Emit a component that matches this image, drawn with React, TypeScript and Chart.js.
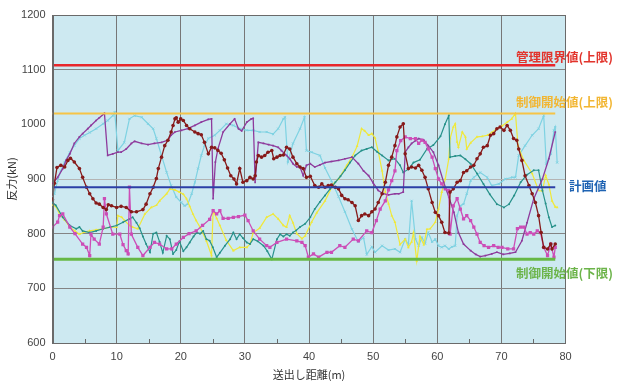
import React, { useEffect, useRef } from "react";
import { Chart, registerables } from "chart.js";

Chart.register(...registerables);

// ---------------- data ----------------
const xTickValues = [0, 10, 20, 30, 40, 50, 60, 70, 80];
const yTickValues = [600, 700, 800, 900, 1000, 1100, 1200];

const refValues = [1108, 1020, 885, 753];
const refLabels = ["管理限界値(上限)", "制御開始値(上限)", "計画値", "制御開始値(下限)"];
const refEndX = 78.4;

const maroonX = [0,0.3,0.7,1.3,1.9,2.4,2.8,3.4,4.2,4.7,5.3,5.8,6.3,6.8,7.3,7.9,8.4,8.7,9.2,10,10.7,11.5,12.3,13.1,14.1,14.6,15.2,15.7,16.2,16.5,17,17.5,18,18.5,18.8,19.1,19.3,19.6,20,20.4,20.9,21.4,22.2,22.7,23.2,23.7,24.3,24.8,25.3,25.8,26.3,26.8,27.3,27.8,28.3,28.7,29.2,29.7,30.3,30.8,31.3,31.6,31.8,32.1,32.6,33.1,33.6,34.2,34.5,35,35.5,36,36.5,37,37.5,38.1,38.6,39.1,39.6,40.2,40.9,41.5,42,42.5,43,43.5,44.1,44.6,45.1,45.6,46.1,46.7,47.2,47.7,48.2,48.7,49.3,49.8,50.3,50.8,51.4,51.9,52.4,52.9,53.4,53.7,54.2,54.7,55,55.5,56,56.6,57.1,57.6,58.1,58.6,59.2,59.7,60.2,60.7,61.2,61.8,62,62.5,63.1,63.6,64.1,64.6,65.2,65.7,66.2,66.7,67.2,67.8,68.3,68.8,69.3,69.8,70.4,70.9,71.4,71.9,72.4,72.7,73.2,73.7,74.3,74.8,75.3,75.8,76.2,76.6,77.2,77.7,77.9,78.4];
const maroonY = [862,892,921,925,922,934,938,931,919,903,885,873,864,856,854,848,844,853,851,848,850,848,840,840,844,854,873,885,901,919,940,961,971,986,998,1010,1012,1004,1010,1007,998,992,986,983,981,967,946,958,957,952,947,935,920,906,900,891,919,894,897,903,900,906,931,943,940,943,949,952,937,940,943,944,958,955,940,928,922,919,903,905,888,885,891,885,888,889,885,882,870,864,862,857,851,824,833,836,833,840,845,857,873,894,925,940,961,977,995,1001,946,919,922,920,925,916,903,882,857,839,833,821,802,801,876,882,894,897,912,915,922,925,937,946,958,961,980,983,992,995,989,998,989,974,971,955,934,906,888,873,857,833,802,775,772,781,772,781];

const purpleX = [0,0.8,1.6,2.1,2.7,3.4,4.2,4.7,5.5,6,6.8,7.3,8.1,8.6,9.4,10.2,10.7,11.5,12.3,12.8,13.9,14.9,15.9,17,18,18.5,19.1,20.1,21.1,22.2,23.2,24.3,24.8,25.05,25.4,25.8,26.6,27.7,28.4,29,29.5,30.3,31,31.3,31.6,32.1,32.9,33.7,34.4,35.2,35.7,36.5,37,37.5,38.1,38.6,39.1,39.6,40.2,40.9,41.7,42.5,43.5,44.6,45.6,46.7,47.7,48.5,49.3,50,50.8,51.6,52.4,53.4,54,54.7,55,55.5,56,56.6,57.1,57.9,58.6,59.4,60.2,61,61.8,62.6,63.3,64.1,65.2,66,66.7,67.5,68.5,69.3,70.3,71.3,72.2,73.2,74,75.05,76.4,77.4,78.4];
const purpleY = [892,903,919,934,946,965,977,983,992,998,1007,1012,1020,943,946,949,949,955,965,969,965,963,965,967,971,980,986,989,992,998,1004,1009,1010,864,931,955,986,1001,1010,992,988,1004,1010,1011,894,967,965,963,961,958,952,943,937,928,922,922,906,925,928,922,926,930,932,934,937,940,928,915,906,893,879,873,871,873,873,876,949,958,965,970,974,971,961,949,925,894,867,839,802,781,769,762,758,760,763,766,762,764,766,787,820,864,900,937,986];

const cyanX = [0,0.3,0.8,1.3,1.9,2.7,3.4,4.2,5,5.8,6.8,7.9,8.6,9.4,9.7,10.2,11.2,12,12.8,13.9,14.9,15.7,16.2,17,17.8,18.5,19.3,20.1,20.6,21.1,21.7,22.2,22.7,23.2,23.7,24.3,25.3,26.1,27.1,28.2,29.2,30.3,31.3,32.3,33.4,34.4,35.2,36,36.25,36.7,37.5,38.6,39.3,39.6,40.4,41.7,42.5,43.5,44.6,45.6,46.7,47.7,48.5,49,49.8,50.3,51.4,52.4,53.4,54.2,55,55.5,56,56.6,57.1,57.6,58.1,58.6,59.2,59.7,60.2,60.7,61.2,61.8,62.3,62.8,63.1,63.6,64.1,64.6,65.2,65.7,66.7,67.8,68.5,69.6,70.6,71.7,72.2,72.7,73.7,74.8,75.8,76.6,77,77.7,78.2,78.4,78.7];
const cyanY = [868,873,897,915,931,949,961,974,980,985,992,1001,1007,1016,1022,952,967,1010,1016,1013,1001,992,974,943,912,888,867,857,851,854,873,894,919,943,961,974,980,989,1001,998,992,989,989,986,986,982,992,1010,1013,931,965,992,1013,952,949,943,920,897,868,840,808,785,793,762,776,766,778,770,772,766,790,780,860,790,778,793,782,802,785,790,778,775,778,772,776,778,833,851,854,873,897,903,912,903,888,891,900,903,903,943,961,980,992,1016,928,946,989,995,930];

const magentaX = [0,0.8,1.1,1.6,2.7,3.5,4.7,5.3,5.8,6,6.5,7.3,7.9,8.1,8.4,9.4,10.5,11,11.5,11.8,12,12.3,13.3,14.1,15.2,15.9,16.7,17.8,18.6,19.3,20.4,21.3,22.4,23.4,24.5,25.05,25.6,26.1,26.6,27.4,28.2,29,30,30.5,31.3,32.3,33.4,33.9,35,36.5,38.1,38.9,39.4,39.9,40.7,41.5,42.8,43.5,44.8,45.6,46.9,47.7,49,49.8,50.5,51.1,51.9,52.4,52.9,53.4,53.7,54.3,55,55.8,56.6,57.1,57.6,58.1,58.6,59.2,59.7,60.2,60.7,61.25,61.8,62,62.5,63.1,63.6,64.1,64.6,65.2,65.7,66.2,66.7,67.3,68,68.8,69.5,70.1,71,71.9,72.5,73,73.5,74,74.5,75.05,75.6,76.1,76.6,77.2,77.7,78.2,78.4];
const magentaY = [812,821,833,836,812,800,781,775,760,799,790,781,812,864,836,799,799,780,769,763,885,799,775,760,775,784,781,772,772,781,793,800,805,815,826,842,836,842,828,828,830,831,834,824,805,790,778,775,784,790,787,784,778,757,763,757,766,766,778,775,790,787,805,802,824,845,860,880,897,915,952,970,977,974,974,965,971,967,955,940,919,900,891,882,879,799,851,864,845,827,833,824,812,799,784,778,775,778,775,775,772,772,809,812,812,799,802,799,805,802,775,760,781,757,775];

const yellowX = [0,0.5,1.1,1.9,2.7,3.5,4.2,5,5.8,6.8,7.9,9,10,10.2,10.8,11.25,12,12.5,13.3,14.4,15.4,16.2,16.7,17.8,18.3,19.1,19.8,20.4,20.9,21.4,21.9,22.4,23,24,24.8,25.05,25.6,26.1,27.1,28.2,29.2,30.3,30.8,31.3,32.3,33.4,34.4,35.2,36,36.5,37,37.5,38.1,38.9,39.4,40.4,41.2,42.5,43.8,44.6,45.9,46.7,47.5,48.2,48.7,49.3,49.8,50.3,50.8,51.4,51.9,52.4,52.9,53.4,54.2,55,55.5,56,56.3,56.8,57.3,57.9,58.4,58.9,59.7,60.2,60.7,61.25,61.8,62,62.5,62.8,63.1,63.3,63.9,64.4,64.6,65.2,66.2,67,67.8,68.5,69.3,70.1,70.9,71.6,72.2,72.6,73.5,74.8,75.8,76.4,76.9,77.4,77.9,78.4,78.7];
const yellowY = [852,850,836,825,812,805,799,803,805,807,809,812,812,833,830,824,815,812,809,836,848,852,860,873,882,880,876,872,864,850,836,824,812,787,760,842,828,815,788,769,775,775,781,802,810,830,836,827,815,812,833,820,800,791,796,821,838,860,891,900,925,940,960,992,988,980,983,975,950,915,876,855,833,821,780,790,775,785,802,750,795,780,808,809,821,845,876,900,937,974,995,1001,968,958,986,977,955,966,977,978,980,985,992,997,1004,1010,1020,960,934,910,879,878,907,890,860,849,848];

const tealX = [0,0.5,1.6,2.7,3.7,4.2,4.7,5.8,6.8,7.9,9,10,11,12,12.5,13.1,13.6,14.1,14.6,15.2,15.7,16.2,16.7,17.2,17.8,18.3,18.8,19.3,19.8,20.4,20.9,21.4,22,22.5,23,23.5,24,24.5,25,25.6,26.1,26.9,27.7,28.2,28.7,29.2,29.7,30.3,30.8,31.3,32,32.9,33.5,34.2,35,35.5,36,36.5,37,37.5,38,38.6,39.4,40.2,40.9,41.7,42.5,43.3,44.1,44.9,45.6,46.4,47.2,48.2,49,49.8,50.6,51.4,52.4,53.4,54.2,54.7,55.5,56.3,57.3,58.4,59.4,60.5,61.2,61.8,62,62.8,63.6,64.4,65.2,66.2,67.2,68.2,69.3,70.4,71.2,72,73,74,75.05,75.8,76.4,76.9,77.4,77.9,78.4];
const tealY = [857,852,830,815,809,812,805,802,805,809,812,815,821,827,830,820,810,795,781,766,800,802,785,765,796,790,763,770,786,768,775,784,795,802,800,805,790,787,775,757,765,778,790,802,790,799,792,784,781,790,786,778,768,753,790,799,795,799,796,802,806,812,818,830,845,858,870,882,894,905,916,930,943,952,955,958,950,943,934,937,925,912,918,930,935,955,962,978,1000,1016,940,942,943,936,928,910,891,872,854,848,854,870,894,908,916,916,879,855,830,812,815];

// ---------------- styles ----------------
const PLOT_BG = "rgb(205,233,241)";
const REF_COLORS = ["#e8262b", "#f6c447", "#2b3fa6", "#66b845"];
const REF_WIDTHS = [2.5, 2, 2, 3];
const LABEL_COLORS = ["#e2342c", "#f2b632", "#1f63b3", "#6cb44a"];
const TICK_FONT = "'Liberation Sans Narrow','Liberation Sans',Arial,sans-serif";
const CJK_FONT = "'Noto Sans CJK JP','Noto Sans',sans-serif";

function zip(xs: number[], ys: number[]) {
  const n = Math.min(xs.length, ys.length);
  const out: { x: number; y: number }[] = [];
  for (let i = 0; i < n; i++) out.push({ x: xs[i], y: ys[i] });
  return out;
}

const decorPlugin = {
  id: "decor",
  beforeDraw(chart: any) {
    const { ctx, chartArea: a } = chart;
    ctx.save();
    ctx.fillStyle = PLOT_BG;
    ctx.fillRect(a.left, a.top, a.right - a.left, a.bottom - a.top);
    ctx.restore();
  },
  afterDraw(chart: any) {
    const { ctx, chartArea: a, scales } = chart;
    const xs = scales.x;
    const ys = scales.y;
    ctx.save();
    // plot frame
    ctx.strokeStyle = "#6a6a6a";
    ctx.lineWidth = 1;
    ctx.strokeRect(Math.round(a.left) + 0.5, Math.round(a.top) + 0.5, Math.round(a.right - a.left) - 1, Math.round(a.bottom - a.top));
    // minor ticks at bottom
    for (let v = 5; v < 80; v += 10) {
      const px = Math.round(xs.getPixelForValue(v)) + 0.5;
      ctx.beginPath();
      ctx.moveTo(px, a.bottom);
      ctx.lineTo(px, a.bottom - 4);
      ctx.stroke();
    }
    // reference labels
    ctx.font = `bold 12.5px ${CJK_FONT}`;
    ctx.textBaseline = "middle";
    const yTop = ys.getPixelForValue(refValues[0]);
    const yUp = ys.getPixelForValue(refValues[1]);
    const yPlan = ys.getPixelForValue(refValues[2]);
    const yLow = ys.getPixelForValue(refValues[3]);
    ctx.textAlign = "right";
    ctx.fillStyle = LABEL_COLORS[0];
    ctx.fillText(refLabels[0], 613, yTop - 8);
    ctx.fillStyle = LABEL_COLORS[1];
    ctx.fillText(refLabels[1], 613, yUp - 11);
    ctx.textAlign = "left";
    ctx.fillStyle = LABEL_COLORS[2];
    ctx.fillText(refLabels[2], 569, yPlan - 1);
    ctx.textAlign = "right";
    ctx.fillStyle = LABEL_COLORS[3];
    ctx.fillText(refLabels[3], 613, yLow + 14);
    ctx.restore();
  },
};

export default function App() {
  const ref = useRef<HTMLCanvasElement | null>(null);

  useEffect(() => {
    if (!ref.current) return;

    const refSets = refValues.map((v, i) => ({
      label: refLabels[i],
      data: [
        { x: 0, y: v },
        { x: refEndX, y: v },
      ],
      borderColor: REF_COLORS[i],
      borderWidth: REF_WIDTHS[i],
      pointRadius: 0,
      order: 0,
    }));

    const series = [
      { label: "A", xs: maroonX, ys: maroonY, color: "#861a1a", style: "circle", r: 1.8, w: 1.3 },
      { label: "B", xs: magentaX, ys: magentaY, color: "#cc4db7", style: "rect", r: 2.3, w: 1.3 },
      { label: "C", xs: purpleX, ys: purpleY, color: "#8e3a9c", style: "rect", r: 1.2, w: 1.3 },
      { label: "D", xs: tealX, ys: tealY, color: "#27918a", style: "circle", r: 1, w: 1.2 },
      { label: "E", xs: yellowX, ys: yellowY, color: "#f0e83a", style: "triangle", r: 1.6, w: 1.2 },
      { label: "F", xs: cyanX, ys: cyanY, color: "#7ed2e2", style: "crossRot", r: 1.5, w: 1.2 },
    ].map((s, i) => ({
      label: s.label,
      data: zip(s.xs, s.ys),
      borderColor: s.color,
      backgroundColor: s.color,
      borderWidth: s.w,
      pointStyle: s.style,
      pointRadius: s.r,
      pointBackgroundColor: s.color,
      pointBorderColor: s.color,
      pointBorderWidth: s.style === "crossRot" ? 1 : 0,
      tension: 0,
      order: i + 1,
    }));

    const chart = new Chart(ref.current, {
      type: "line",
      data: { datasets: [...refSets, ...series] as any },
      options: {
        animation: false,
        responsive: false,
        devicePixelRatio: 1,
        layout: { padding: { top: 15, right: 51.5, left: 0, bottom: 0 } },
        plugins: { legend: { display: false }, tooltip: { enabled: false } },
        scales: {
          x: {
            type: "linear",
            min: xTickValues[0],
            max: xTickValues[xTickValues.length - 1],
            afterBuildTicks: (s: any) => {
              s.ticks = xTickValues.map((v) => ({ value: v }));
            },
            afterFit: (s: any) => {
              s.height = 38;
            },
            ticks: {
              padding: 7,
              color: "#444",
              font: { size: 11, family: TICK_FONT },
              maxRotation: 0,
              callback: (v: any) => String(v),
            },
            grid: {
              drawTicks: false,
              color: "#777",
              lineWidth: 1,
            },
            border: { display: true, color: "#6a6a6a" },
            title: {
              display: true,
              text: "送出し距離(m)",
              color: "#333",
              font: { size: 11, family: CJK_FONT },
              padding: { top: 0, bottom: 0 },
            },
          },
          y: {
            type: "linear",
            min: yTickValues[0],
            max: yTickValues[yTickValues.length - 1],
            afterBuildTicks: (s: any) => {
              s.ticks = yTickValues.map((v) => ({ value: v }));
            },
            afterFit: (s: any) => {
              s.width = 52.5;
            },
            ticks: {
              padding: 7,
              color: "#444",
              font: { size: 11, family: TICK_FONT },
              callback: (v: any) => String(v),
            },
            grid: {
              drawTicks: false,
              lineWidth: 1,
              color: (c: any) => {
                const v = c.tick && c.tick.value;
                if (v === 1000) return "rgba(0,0,0,0)";
                if (v === 900) return "#b4b4b4";
                return "#848484";
              },
            },
            border: { display: true, color: "#6a6a6a" },
            title: {
              display: true,
              text: "反力(kN)",
              color: "#333",
              font: { size: 11, family: CJK_FONT },
              padding: { top: 5, bottom: 0 },
            },
          },
        },
      } as any,
      plugins: [decorPlugin],
    });

    return () => chart.destroy();
  }, []);

  return (
    <div style={{ position: "absolute", left: 0, top: 0, width: 617, height: 381, background: "#fff" }}>
      <canvas ref={ref} width={617} height={381} style={{ width: 617, height: 381, display: "block" }} />
    </div>
  );
}
